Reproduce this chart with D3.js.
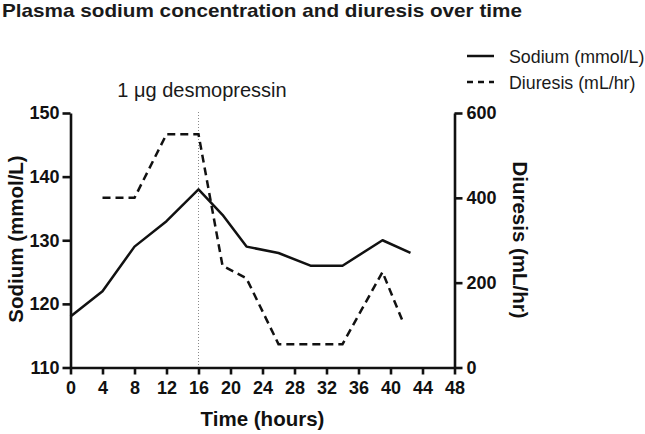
<!DOCTYPE html>
<html>
<head>
<meta charset="utf-8">
<script src="https://cdn.jsdelivr.net/npm/d3@7"></script>
<style>
  body { margin: 0; background: #fff; }
  svg { display: block; font-family: "Liberation Sans", Arial, sans-serif; }
</style>
</head>
<body>
<div id="chart"></div>
<script>
///////////////////////////////////////////////////////////////
/////////////////////////// Data //////////////////////////////
///////////////////////////////////////////////////////////////

var sodiumHours = [0, 4, 8, 12, 16, 19, 22, 26, 30, 34, 39, 42.5];
var sodiumValues = [118, 122, 129, 133, 138, 134, 129, 128, 126, 126, 130, 128];

var diuresisHours = [4, 8, 12, 16, 19, 22, 26, 34, 39, 41.5];
var diuresisValues = [400, 400, 550, 550, 240, 210, 55, 55, 225, 110];

var timeTicks = [0, 4, 8, 12, 16, 20, 24, 28, 32, 36, 40, 44, 48];
var sodiumTicks = [110, 120, 130, 140, 150];
var diuresisTicks = [0, 200, 400, 600];

var desmoHour = 16;

var titleText = "Plasma sodium concentration and diuresis over time";
var legendLabels = ["Sodium (mmol/L)", "Diuresis (mL/hr)"];

///////////////////////////////////////////////////////////////
///////////////////////// Chart ///////////////////////////////
///////////////////////////////////////////////////////////////

var W = 645, H = 434;
var plot = { left: 70.5, right: 454.5, top: 113, bottom: 367.5 };

var svg = d3.select("#chart").append("svg")
  .attr("width", W)
  .attr("height", H);

var x = d3.scaleLinear().domain([0, 48]).range([plot.left, plot.right]);
var yNa = d3.scaleLinear().domain([110, 150]).range([plot.bottom, plot.top]);
var yDi = d3.scaleLinear().domain([0, 600]).range([plot.bottom, plot.top]);

// title
svg.append("text")
  .attr("x", 2)
  .attr("y", 17)
  .attr("font-size", "19px")
  .attr("font-weight", "bold")
  .attr("textLength", 520)
  .attr("lengthAdjust", "spacingAndGlyphs")
  .attr("fill", "#1a1a1a")
  .text(titleText);

// dotted line where desmopressin was given
svg.append("line")
  .attr("x1", x(desmoHour)).attr("x2", x(desmoHour))
  .attr("y1", plot.top - 1).attr("y2", plot.bottom)
  .attr("stroke", "#8a8a8a")
  .attr("stroke-width", 1)
  .attr("stroke-dasharray", "1,2");

svg.append("text")
  .attr("x", x(desmoHour) + 3.5)
  .attr("y", 97)
  .attr("text-anchor", "middle")
  .attr("font-size", "20px")
  .attr("fill", "#1a1a1a")
  .text("1 \u03bcg desmopressin");

// series
var lineNa = d3.line()
  .x(function (d, i) { return x(sodiumHours[i]); })
  .y(function (d) { return yNa(d); });

var lineDi = d3.line()
  .x(function (d, i) { return x(diuresisHours[i]); })
  .y(function (d) { return yDi(d); });

svg.append("path")
  .datum(diuresisValues)
  .attr("d", lineDi)
  .attr("fill", "none")
  .attr("stroke", "#111")
  .attr("stroke-width", 2.5)
  .attr("stroke-dasharray", "8,5");

svg.append("path")
  .datum(sodiumValues)
  .attr("d", lineNa)
  .attr("fill", "none")
  .attr("stroke", "#111")
  .attr("stroke-width", 2.5)
  .attr("stroke-linejoin", "round");

// axes
function styleAxis(g) {
  g.select(".domain").attr("stroke", "#111").attr("stroke-width", 2.6);
  g.selectAll(".tick line").attr("stroke", "#111").attr("stroke-width", 2.6);
  g.selectAll(".tick text")
    .attr("fill", "#111")
    .attr("font-size", "18px")
    .attr("font-weight", "bold")
    .attr("font-family", "Liberation Sans, Arial, sans-serif");
}

svg.append("g")
  .attr("transform", "translate(0," + plot.bottom + ")")
  .call(d3.axisBottom(x).tickValues(timeTicks).tickSize(7).tickSizeOuter(0).tickPadding(7))
  .call(styleAxis);

svg.append("g")
  .attr("transform", "translate(" + plot.left + ",0)")
  .call(d3.axisLeft(yNa).tickValues(sodiumTicks).tickSize(8).tickSizeOuter(0).tickPadding(3))
  .call(styleAxis);

svg.append("g")
  .attr("transform", "translate(" + plot.right + ",0)")
  .call(d3.axisRight(yDi).tickValues(diuresisTicks).tickSize(8).tickSizeOuter(0).tickPadding(4))
  .call(styleAxis);

// axis titles
svg.append("text")
  .attr("x", (plot.left + plot.right) / 2)
  .attr("y", 426)
  .attr("text-anchor", "middle")
  .attr("font-size", "20.5px")
  .attr("font-weight", "bold")
  .attr("fill", "#111")
  .text("Time (hours)");

svg.append("text")
  .attr("transform", "translate(23,239) rotate(-90)")
  .attr("text-anchor", "middle")
  .attr("font-size", "20.5px")
  .attr("font-weight", "bold")
  .attr("fill", "#111")
  .text("Sodium (mmol/L)");

svg.append("text")
  .attr("transform", "translate(513,240) rotate(90)")
  .attr("text-anchor", "middle")
  .attr("font-size", "20.5px")
  .attr("font-weight", "bold")
  .attr("fill", "#111")
  .text("Diuresis (mL/hr)");

// legend
var legendData = [
  { text: legendLabels[0], dash: null, y: 56 },
  { text: legendLabels[1], dash: "6,5", y: 82 }
];

svg.selectAll("legendLines")
  .data(legendData).enter().append("line")
  .attr("x1", 467).attr("x2", 494)
  .attr("y1", function (d) { return d.y; })
  .attr("y2", function (d) { return d.y; })
  .attr("stroke", "#111")
  .attr("stroke-width", 2.5)
  .attr("stroke-dasharray", function (d) { return d.dash; });

svg.selectAll("legendText")
  .data(legendData).enter().append("text")
  .attr("x", 509)
  .attr("y", function (d) { return d.y + 6.5; })
  .attr("font-size", "17.8px")
  .attr("fill", "#1a1a1a")
  .text(function (d) { return d.text; });
</script>
</body>
</html>
